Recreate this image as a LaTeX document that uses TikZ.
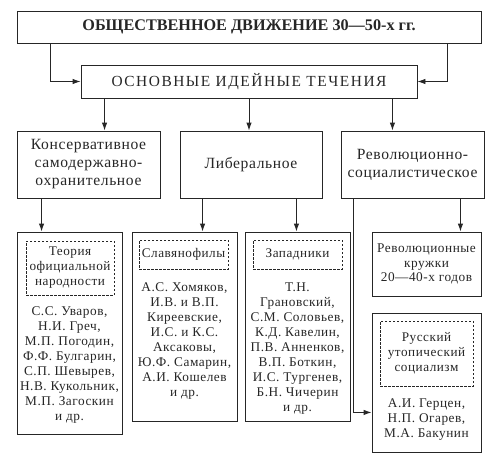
\documentclass[tikz,border=0pt]{standalone}
\usepackage{fontspec}
\setmainfont{Liberation Serif}
\newfontfamily\lsp{Liberation Serif}[LetterSpace=4]
\newfontfamily\lspw{Liberation Serif}[LetterSpace=10]
\usetikzlibrary{arrows.meta}
\definecolor{ink}{HTML}{262626}
\tikzset{
  box/.style={draw=ink, line width=0.9pt, inner sep=0pt, align=center, text=ink},
  dbox/.style={draw=ink, line width=0.7pt, dashed, dash pattern=on 2.5pt off 1.5pt, inner sep=0pt, align=center, text=ink, font=\lsp\fontsize{13.2}{15}\selectfont},
  names/.style={inner sep=0pt, align=center, text=ink, font=\lsp\fontsize{13.3}{15}\selectfont},
  big/.style={font=\lsp\fontsize{15.6}{18}\selectfont},
  arr/.style={draw=ink, line width=0.9pt, -{Latex[length=8pt,width=5.5pt]}},
  ln/.style={draw=ink, line width=0.9pt}
}
\begin{document}
\begin{tikzpicture}[x=1pt,y=-1pt]
\useasboundingbox (0,0) rectangle (500,455);
\node[box, minimum width=464pt, minimum height=32pt, font=\bfseries\fontsize{16.2}{18}\selectfont] (top) at (249,27) {ОБЩЕСТВЕННОЕ ДВИЖЕНИЕ 30—50-х гг.};
\node[box, minimum width=336pt, minimum height=33pt, font=\lspw\fontsize{15.4}{18}\selectfont] (main) at (249,81.5) {ОСНОВНЫЕ ИДЕЙНЫЕ ТЕЧЕНИЯ};
\node[box, big, minimum width=143pt, minimum height=67pt] (r1) at (88.5,164.5) {Консервативное\\самодержавно-\\охранительное};
\node[box, big, minimum width=142pt, minimum height=67pt] (r2) at (251,164.5) {Либеральное};
\node[box, big, minimum width=143pt, minimum height=67pt] (r3) at (412.5,164.5) {Революционно-\\социалистическое};
% fourth row
\node[box, minimum width=105pt, minimum height=202pt] (A) at (69.5,333) {};
\node[box, minimum width=105pt, minimum height=189pt] (B) at (184.5,326.5) {};
\node[box, minimum width=105pt, minimum height=189pt] (C) at (297.5,326.5) {};
\node[box, minimum width=109pt, minimum height=64pt, font=\lsp\fontsize{13.3}{14.5}\selectfont] (D) at (426.5,264) {Революционные\\кружки\\20—40-х годов};
\node[box, minimum width=109pt, minimum height=139pt] (E) at (426.5,382.5) {};
\node[dbox, minimum width=88pt, minimum height=54pt] (dA) at (70,268) {Теория\\официальной\\народности};
\node[dbox, minimum width=89pt, minimum height=29pt] (dB) at (183.5,254.5) {Славянофилы};
\node[dbox, minimum width=89pt, minimum height=29pt] (dC) at (297.5,254.5) {Западники};
\node[dbox, minimum width=93pt, minimum height=65pt] (dE) at (426.5,353.5) {Русский\\утопический\\социализм};
\node[names] (nA) at (69.5,365.5) {С.С. Уваров,\\Н.И. Греч,\\М.П. Погодин,\\Ф.Ф. Булгарин,\\С.П. Шевырев,\\Н.В. Кукольник,\\М.П. Загоскин\\и др.};
\node[names] (nB) at (184.5,341) {А.С. Хомяков,\\И.В. и В.П.\\Киреевские,\\И.С. и К.С.\\Аксаковы,\\Ю.Ф. Самарин,\\А.И. Кошелев\\и др.};
\node[names] (nC) at (297.5,348.5) {Т.Н.\\Грановский,\\С.М. Соловьев,\\К.Д. Кавелин,\\П.В. Анненков,\\В.П. Боткин,\\И.С. Тургенев,\\Б.Н. Чичерин\\и др.};
\node[names] (nE) at (426.5,420) {А.И. Герцен,\\Н.П. Огарев,\\М.А. Бакунин};
% connectors
\draw[arr] ([xshift=34pt]top.south west) |- (main.west);
\draw[arr] ([xshift=-34pt]top.south east) |- (main.east);
\draw[arr] ([xshift=24pt]main.south west) -- ([xshift=24pt]main.south west |- r1.north);
\draw[arr] (main.south) -- (main.south |- r2.north);
\draw[arr] ([xshift=-25pt]main.south east) -- ([xshift=-25pt]main.south east |- r3.north);
\draw[arr] ([xshift=25pt]r1.south west) -- ([xshift=25pt]r1.south west |- A.north);
\draw[arr] ([xshift=23pt]r2.south west) -- ([xshift=23pt]r2.south west |- B.north);
\draw[arr] ([xshift=-26pt]r2.south east) -- ([xshift=-26pt]r2.south east |- C.north);
\draw[arr] ([xshift=-24pt]r3.south east) -- ([xshift=-24pt]r3.south east |- D.north);
\draw[arr] ([xshift=13pt]r3.south west) |- ([yshift=40pt]E.south west);
\end{tikzpicture}
\end{document}
